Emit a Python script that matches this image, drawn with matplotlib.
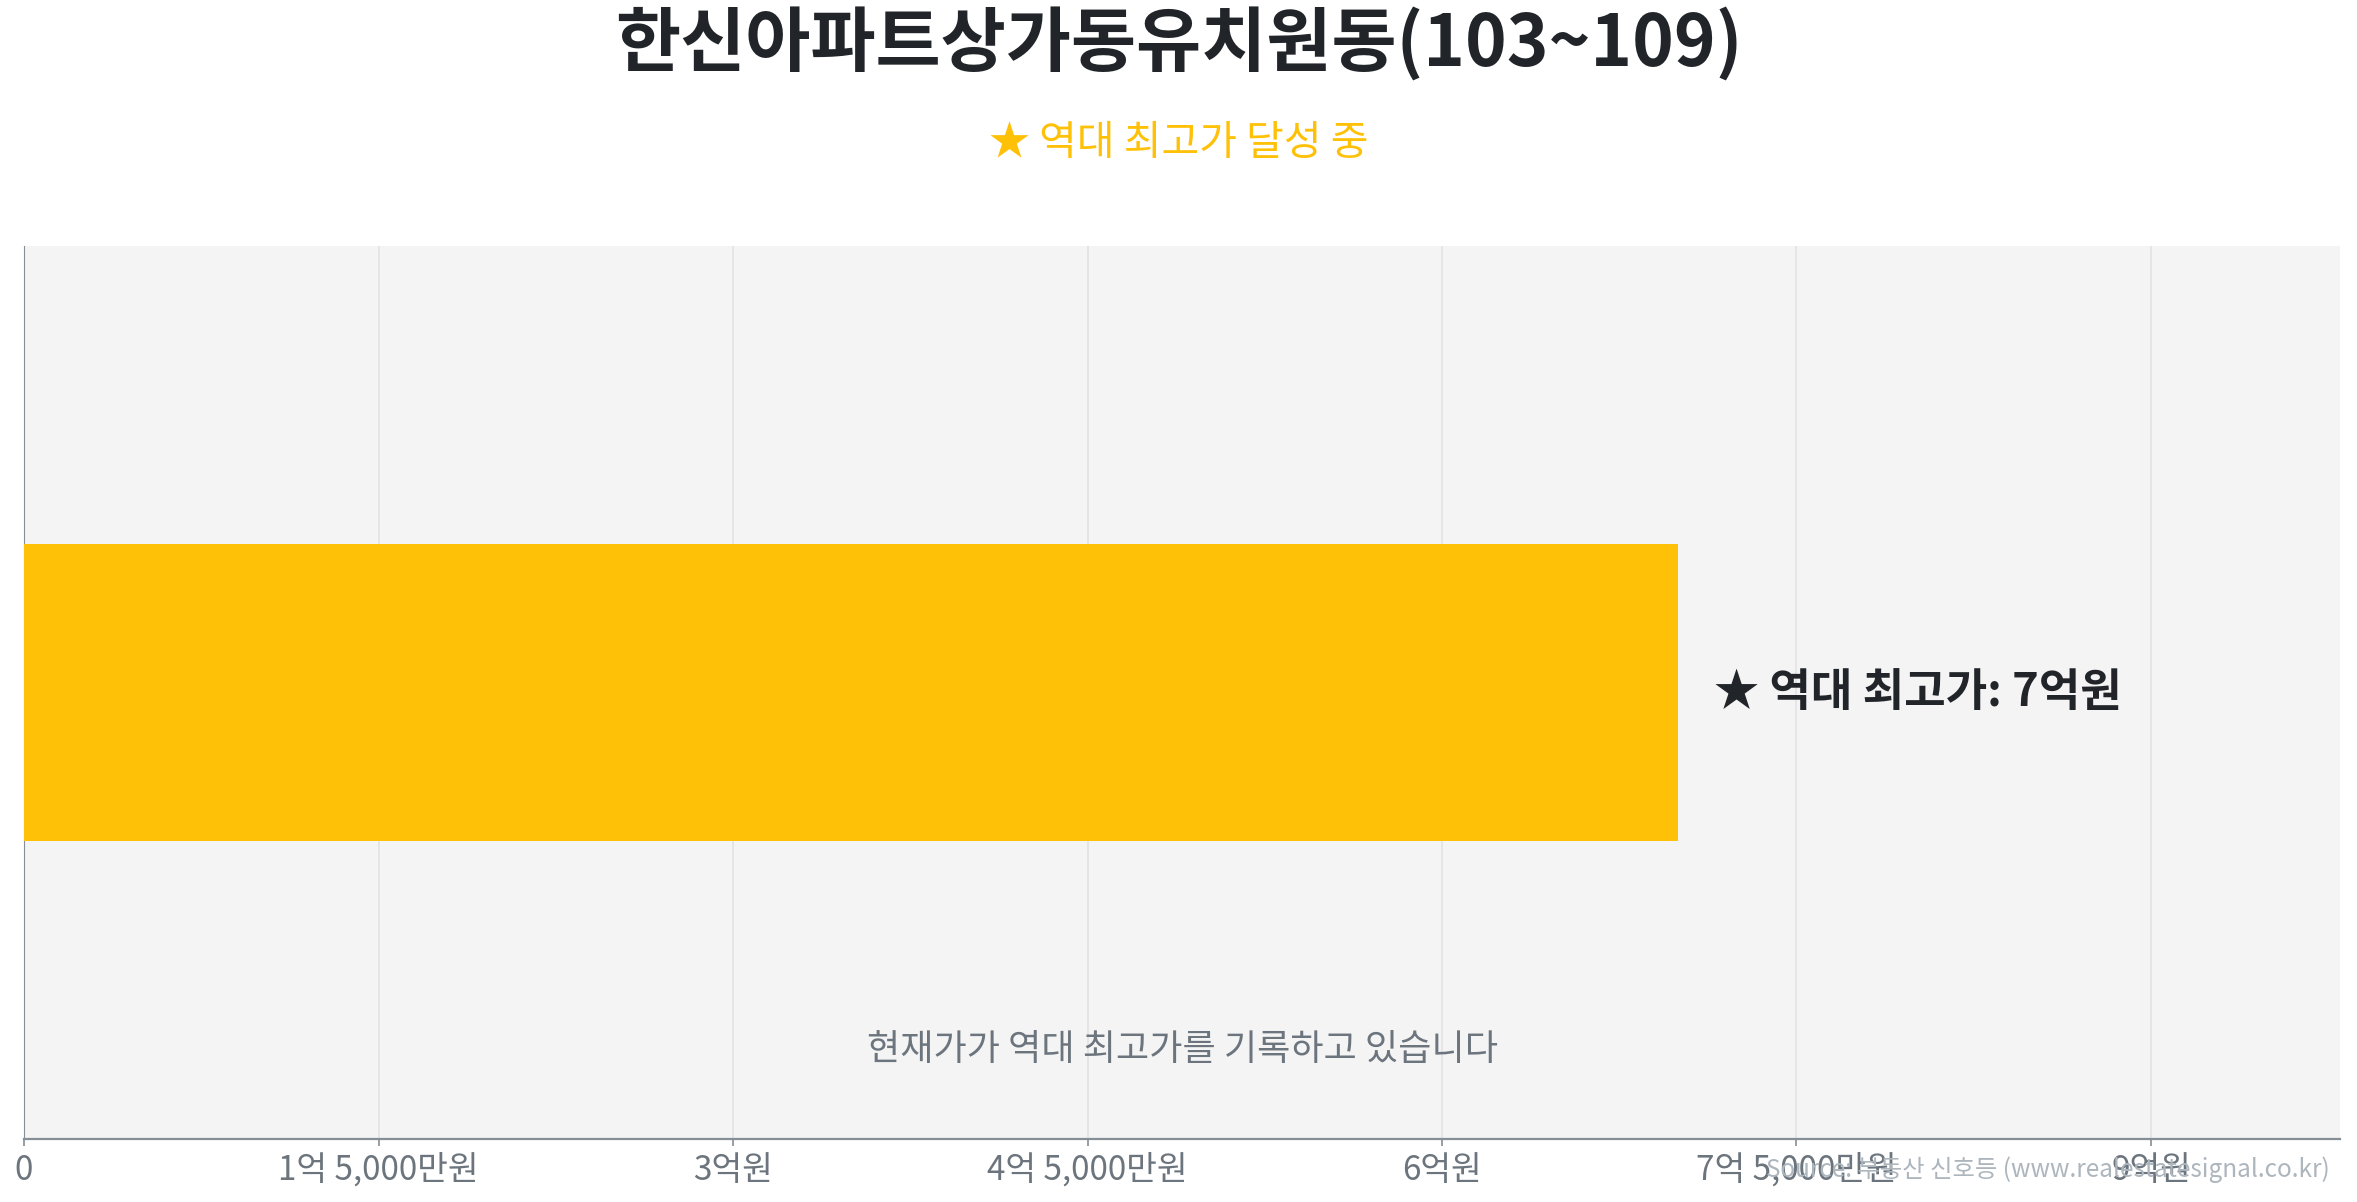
import matplotlib
matplotlib.use("Agg")
import matplotlib.pyplot as plt
from matplotlib.ticker import FuncFormatter

plt.rcParams["font.family"] = ["Noto Sans CJK KR", "DejaVu Sans"]

# values in 만원
complex_name = "한신아파트상가동유치원동(103~109)"
categories = ["최고가"]
record_high = [70000]
tick_values = [0, 15000, 30000, 45000, 60000, 75000, 90000]
x_max = 98000


def fmt_price(v, pos=None):
    v = int(round(v))
    if v == 0:
        return "0"
    eok, man = divmod(v, 10000)
    if man == 0:
        return f"{eok}억원"
    if eok == 0:
        return f"{man:,}만원"
    return f"{eok}억 {man:,}만원"


fig = plt.figure(figsize=(23.57, 12.02), dpi=100)
ax = fig.add_axes([0.0102, 0.0524, 0.9826, 0.7429])
ax.set_facecolor("#f4f4f4")

ax.barh(categories, record_high, height=1.0, color="#FFC107", zorder=3)
ax.set_ylim(-1.5, 1.5)
ax.set_xlim(0, x_max)
ax.set_xticks(tick_values)
ax.xaxis.set_major_formatter(FuncFormatter(fmt_price))
ax.set_yticks([])
ax.grid(axis="x", color="#e2e2e2", linewidth=1.2, zorder=1)
ax.set_axisbelow(True)

for side in ["top", "right"]:
    ax.spines[side].set_visible(False)
ax.spines["left"].set_color("#868e96")
ax.spines["bottom"].set_color("#868e96")
ax.spines["bottom"].set_linewidth(1.6)
ax.tick_params(axis="x", colors="#868e96", length=5, width=1.2,
               labelsize=24, labelcolor="#6c757d", pad=5)

ax.annotate(f"★ 역대 최고가: {fmt_price(record_high[0])}",
            xy=(record_high[0], 0), xytext=(26, 0), textcoords="offset points",
            va="center", ha="left", fontsize=32.5, fontweight="bold",
            color="#212529", zorder=4)

ax.text(0.5, 0.1, "현재가가 역대 최고가를 기록하고 있습니다", transform=ax.transAxes,
        ha="center", va="center", fontsize=26, color="#6c757d")

fig.text(0.5, 0.963, complex_name, ha="center", va="center",
         fontsize=51, fontweight="bold", color="#212529")
fig.text(0.5, 0.881, "★ 역대 최고가 달성 중", ha="center", va="center",
         fontsize=29.5, color="#FFC107")
fig.text(0.9885, 0.027, "Source: 부동산 신호등 (www.realestatesignal.co.kr)",
         ha="right", va="center", fontsize=17.5, color="#adb5bd")

fig.savefig("out.png", dpi=100)
